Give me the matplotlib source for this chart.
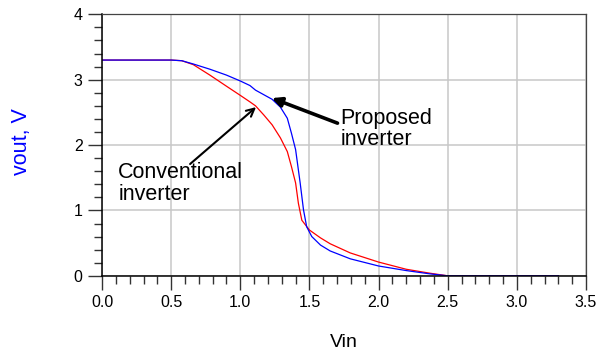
import matplotlib.pyplot as plt
from matplotlib.ticker import MultipleLocator

plt.rcParams['font.family'] = ['Liberation Sans', 'DejaVu Sans']

# Conventional inverter transfer curve
conv_vin = [0.0, 0.50, 0.577, 0.66, 0.78, 0.90, 1.00, 1.07, 1.11, 1.17, 1.23, 1.29, 1.34,
            1.37, 1.40, 1.42, 1.445, 1.50, 1.58, 1.65, 1.795, 2.00, 2.20, 2.37, 2.50, 3.30]
conv_vout = [3.30, 3.30, 3.29, 3.23, 3.07, 2.90, 2.76, 2.66, 2.60, 2.46, 2.31, 2.11, 1.90,
             1.67, 1.42, 1.11, 0.85, 0.70, 0.58, 0.49, 0.35, 0.21, 0.10, 0.04, 0.0, 0.0]

# Proposed inverter transfer curve
prop_vin = [0.0, 0.50, 0.577, 0.66, 0.78, 0.90, 1.00, 1.07, 1.11, 1.23, 1.29, 1.34, 1.37,
            1.40, 1.42, 1.433, 1.457, 1.48, 1.517, 1.58, 1.65, 1.795, 2.00, 2.20, 2.37, 2.50, 3.30]
prop_vout = [3.30, 3.30, 3.29, 3.24, 3.16, 3.07, 2.98, 2.91, 2.84, 2.70, 2.58, 2.41, 2.18,
             1.93, 1.62, 1.42, 1.01, 0.75, 0.60, 0.47, 0.38, 0.26, 0.15, 0.08, 0.03, 0.0, 0.0]

fig = plt.figure(figsize=(6.12, 3.54), dpi=100)
ax = fig.add_axes([0.1667, 0.2209, 0.7908, 0.7387])

ax.plot(conv_vin, conv_vout, color='#ff0000', lw=0.9)
ax.plot(prop_vin, prop_vout, color='#0000ff', lw=0.9)

ax.set_xlim(0, 3.5)
ax.set_ylim(0, 4)
ax.xaxis.set_major_locator(MultipleLocator(0.5))
ax.xaxis.set_minor_locator(MultipleLocator(0.1))
ax.yaxis.set_major_locator(MultipleLocator(1))
ax.yaxis.set_minor_locator(MultipleLocator(0.2))
ax.set_xticklabels(['%.1f' % v for v in ax.get_xticks()])
ax.grid(True, which='major', color='#c8c8c8', lw=1.1)
ax.set_axisbelow(True)

ax.tick_params(which='major', direction='out', length=10, width=1.0, color='#333333',
               labelsize=11.5, pad=4)
ax.tick_params(which='minor', direction='out', length=5.5, width=1.0, color='#333333')
for s in ['left', 'bottom']:
    ax.spines[s].set_color('black')
    ax.spines[s].set_linewidth(1.1)
for s in ['top', 'right']:
    ax.spines[s].set_color('#444444')
    ax.spines[s].set_linewidth(0.9)

ax.set_xlabel('Vin', fontsize=14)
ax.xaxis.set_label_coords(0.5, -0.222)
ax.set_ylabel('vout, V', fontsize=15.5, color='#0000ff')
ax.yaxis.set_label_coords(-0.145, 0.515)

# annotations
ax.annotate('', xy=(1.228, 2.718), xytext=(1.703, 2.335),
            arrowprops=dict(arrowstyle='-|>', color='black', lw=2.6, mutation_scale=14,
                            shrinkA=0, shrinkB=0))
ax.text(1.722, 2.574, 'Proposed\ninverter', fontsize=15.5, ha='left', va='top',
        linespacing=1.05)

ax.annotate('', xy=(1.114, 2.58), xytext=(0.637, 1.71),
            arrowprops=dict(arrowstyle='->', color='black', lw=1.5, mutation_scale=14,
                            shrinkA=0, shrinkB=0))
ax.text(0.118, 1.735, 'Conventional\ninverter', fontsize=15.5, ha='left', va='top',
        linespacing=1.05)

fig.savefig('out.png', dpi=100)
